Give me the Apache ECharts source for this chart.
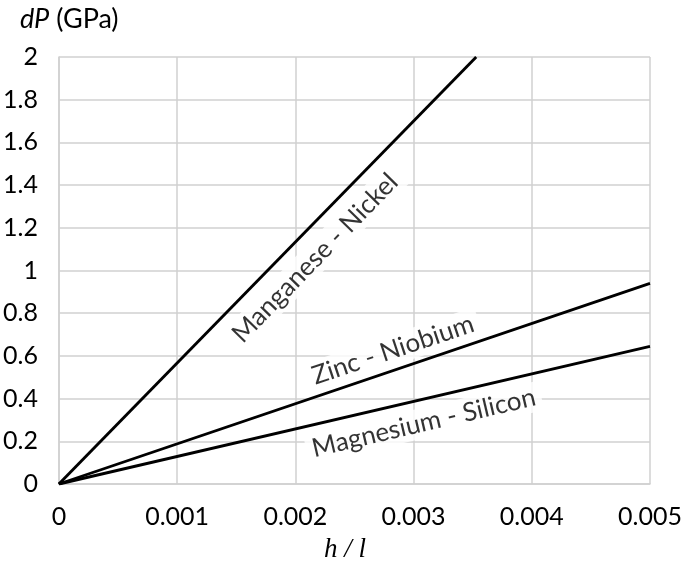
<!DOCTYPE html>
<html><head><meta charset="utf-8">
<script src="https://cdn.jsdelivr.net/npm/echarts@6/dist/echarts.min.js"></script>
<style>html,body{margin:0;padding:0;background:#fff}#c{width:685px;height:564px}</style>
</head><body><div id="c"></div>
<script>
// Data
const mnNi = [[0, 0], [0.00353, 2.0]];
const znNb = [[0, 0], [0.005, 0.94]];
const mgSi = [[0, 0], [0.005, 0.645]];
const xTicks = ['0', '0.001', '0.002', '0.003', '0.004', '0.005'];
const yTicks = ['0', '0.2', '0.4', '0.6', '0.8', '1', '1.2', '1.4', '1.6', '1.8', '2'];
// Label annotations: [h, dP, text, rotation]
const lineLabels = [
  [0.002167, 1.058, 'Manganese - Nickel', 45.7],
  [0.002825, 0.628, 'Zinc - Niobium', 18.5],
  [0.003086, 0.286, 'Magnesium - Silicon', 13.2]
];

const font = 'Lato, "Open Sans", sans-serif';
const chart = echarts.init(document.getElementById('c'));
const gridColor = '#d0d0d0';
function mk(data) {
  return {type: 'line', data: data, symbol: 'none', lineStyle: {color: '#000', width: 2.9}, z: 3, silent: true};
}
chart.setOption({
  animation: false,
  grid: {left: 57, right: 35, top: 57, bottom: 80},
  xAxis: {
    type: 'value', min: 0, max: 0.005, interval: 0.001,
    axisLine: {show: true, lineStyle: {color: gridColor, width: 1.5}},
    axisTick: {show: false},
    splitLine: {show: true, lineStyle: {color: gridColor, width: 1.5}},
    axisLabel: {color: '#000', fontSize: 25, fontFamily: font, margin: 20,
      formatter: (v) => xTicks[Math.round(v / 0.001)]}
  },
  yAxis: {
    type: 'value', min: 0, max: 2, interval: 0.2,
    axisLine: {show: true, lineStyle: {color: gridColor, width: 1.5}},
    axisTick: {show: false},
    splitLine: {show: true, lineStyle: {color: gridColor, width: 1.5}},
    axisLabel: {color: '#000', fontSize: 25, fontFamily: font, margin: 21,
      formatter: (v) => yTicks[Math.round(v / 0.2)]}
  },
  graphic: [{
    type: 'text', left: 20, top: 6,
    style: {
      text: '{i|dP}{n|(GPa)}',
      rich: {
        i: {fontStyle: 'italic', fontSize: 27, fontFamily: font, fill: '#000', padding: [0, 7, 0, 0]},
        n: {fontSize: 27, fontFamily: font, fill: '#000'}
      }
    }
  }, {
    type: 'text', left: 324, top: 536,
    style: {
      text: 'h / l', fill: '#000', fontSize: 27, fontStyle: 'italic',
      fontFamily: '"Liberation Serif", "Times New Roman", serif'
    }
  }],
  series: [
    mk(mnNi), mk(znNb), mk(mgSi),
    {
      type: 'scatter', symbolSize: 0, z: 2, silent: true,
      data: lineLabels.map(l => ({
        value: [l[0], l[1]],
        label: {show: true, position: 'inside', formatter: l[2], rotate: l[3],
          color: '#000', fontSize: 26, fontFamily: font, textBorderWidth: 0,
          backgroundColor: '#fff', padding: [2, 6]}
      }))
    }
  ]
});
</script></body></html>
